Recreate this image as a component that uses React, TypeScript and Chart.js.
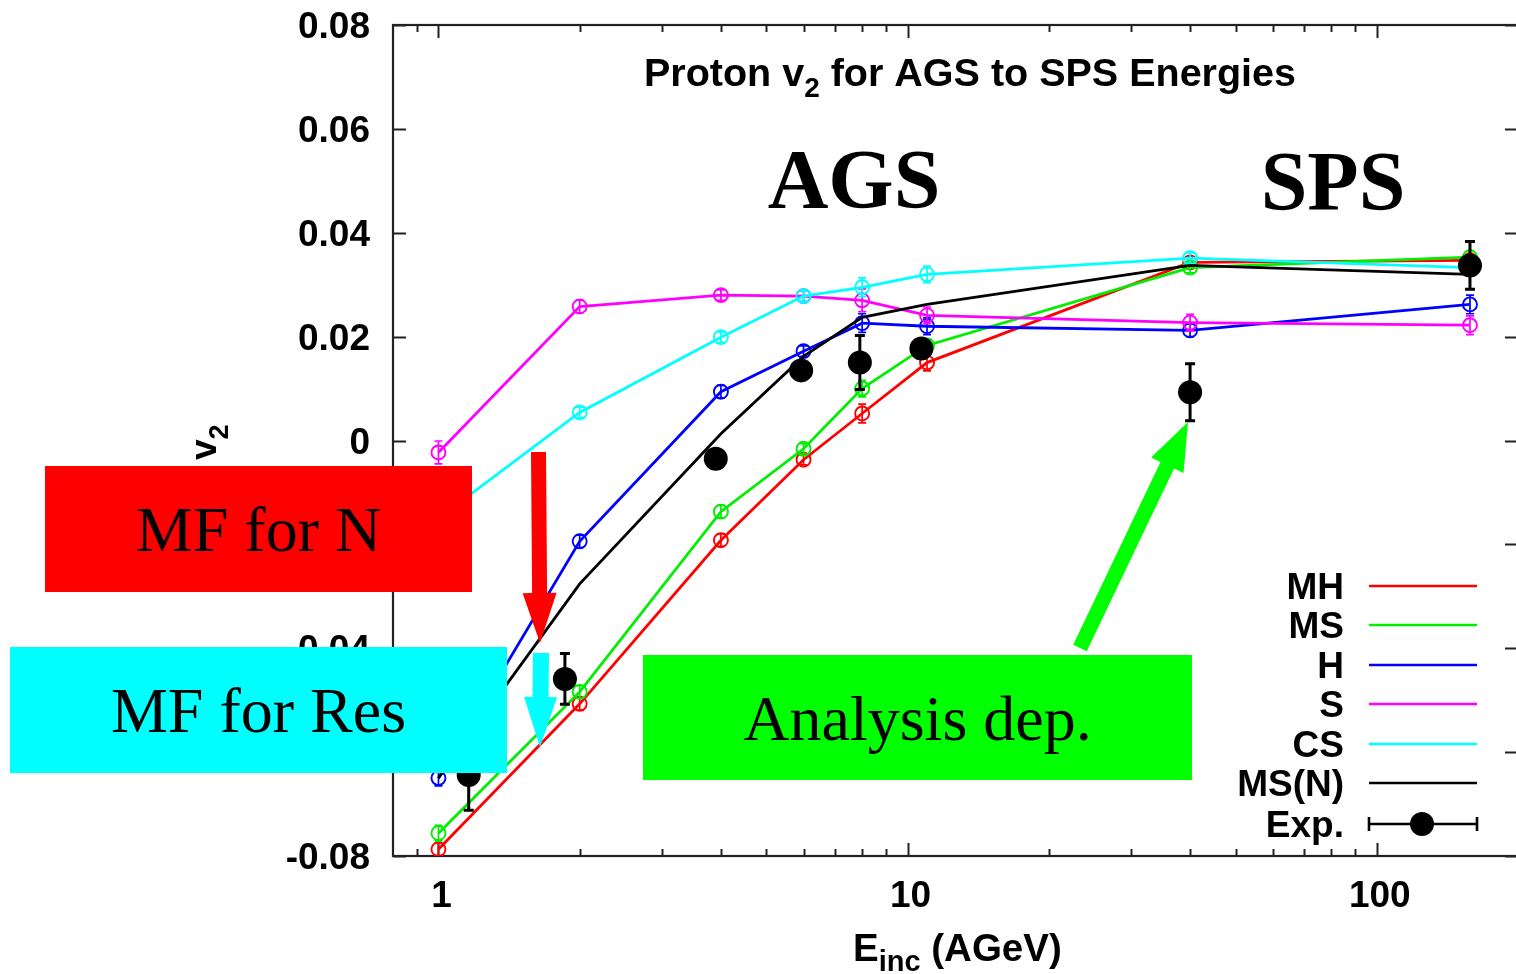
import React, { useEffect, useRef } from "react";
import { Chart, registerables } from "chart.js";

Chart.register(...registerables);

// ---------- data ----------
const energies = [1, 2, 4, 6, 8, 11, 40, 158];

const mhValues = [-0.0787, -0.0507, -0.0192, -0.0037, 0.0052, 0.015, 0.0343, 0.0347];
const mhErrors = [0.0012, 0.0012, 0.0012, 0.001, 0.0018, 0.0016, 0.001, 0.0012];

const msValues = [-0.0756, -0.0484, -0.0137, -0.0016, 0.01, 0.0183, 0.0333, 0.0353];
const msErrors = [0.0015, 0.0012, 0.0012, 0.001, 0.0016, 0.0012, 0.001, 0.0012];

const hValues = [-0.065, -0.0194, 0.0094, 0.0172, 0.0226, 0.022, 0.0212, 0.0262];
const hErrors = [0.0015, 0.0012, 0.0012, 0.001, 0.0018, 0.0016, 0.0012, 0.0018];

const sValues = [-0.0023, 0.0258, 0.028, 0.0278, 0.027, 0.0241, 0.0227, 0.0222];
const sErrors = [0.0022, 0.0012, 0.001, 0.001, 0.0022, 0.0016, 0.0016, 0.0018];

const csValues = [-0.015, 0.0054, 0.0199, 0.0278, 0.0295, 0.032, 0.0351, 0.0333];
const csErrors = [0.0012, 0.001, 0.001, 0.001, 0.0018, 0.0016, 0.001, 0.0012];

const msnValues = [-0.065, -0.0276, 0.0013, 0.0162, 0.0237, 0.0262, 0.0337, 0.032];

const expEnergies = [1.16, 1.86, 3.9, 5.93, 7.91, 10.7, 40, 158];
const expValues = [-0.0644, -0.0459, -0.0035, 0.0135, 0.015, 0.0177, 0.0093, 0.0337];
const expErrors = [0.0068, 0.0049, 0.0015, 0.0015, 0.0052, 0.0015, 0.0055, 0.0046];

const seriesLabels = ["MH", "MS", "H", "S", "CS", "MS(N)", "Exp."];
const seriesColors = ["#ff0000", "#00ee00", "#0000ff", "#ff00ff", "#00ffff", "#000000", "#000000"];

const yTickValues = [0.08, 0.06, 0.04, 0.02, 0, -0.02, -0.04, -0.06, -0.08];
const yTickLabels = ["0.08", "0.06", "0.04", "0.02", "0", "-0.02", "-0.04", "-0.06", "-0.08"];
const xMajorTicks = [1, 10, 100];
const xMajorLabels = ["1", "10", "100"];
const xMinorTicks = [0.9, 2, 3, 4, 5, 6, 7, 8, 9, 20, 30, 40, 50, 60, 70, 80, 90];

const titleText = { main: "Proton v", sub: "2", rest: " for AGS to SPS Energies" };
const xTitle = { main: "E", sub: "inc", rest: " (AGeV)" };
const yTitle = { main: "v", sub: "2" };

const SANS = '"Liberation Sans", Arial, Helvetica, sans-serif';
const SERIF = '"Liberation Serif", "Times New Roman", serif';

function pts(xs: number[], ys: number[]) {
  return xs.map((x, i) => ({ x, y: ys[i] }));
}

function drawArrow(
  ctx: CanvasRenderingContext2D,
  x0: number, y0: number, x1: number, y1: number,
  shaftW: number, headLen: number, headW: number, color: string
) {
  const dx = x1 - x0, dy = y1 - y0;
  const len = Math.hypot(dx, dy);
  const ux = dx / len, uy = dy / len;
  const nx = -uy, ny = ux;
  const bx = x1 - ux * headLen, by = y1 - uy * headLen;
  ctx.save();
  ctx.fillStyle = color;
  ctx.beginPath();
  ctx.moveTo(x0 + nx * shaftW / 2, y0 + ny * shaftW / 2);
  ctx.lineTo(bx + nx * shaftW / 2, by + ny * shaftW / 2);
  ctx.lineTo(bx + nx * headW / 2, by + ny * headW / 2);
  ctx.lineTo(x1, y1);
  ctx.lineTo(bx - nx * headW / 2, by - ny * headW / 2);
  ctx.lineTo(bx - nx * shaftW / 2, by - ny * shaftW / 2);
  ctx.lineTo(x0 - nx * shaftW / 2, y0 - ny * shaftW / 2);
  ctx.closePath();
  ctx.fill();
  ctx.restore();
}

const frameTicksPlugin = {
  id: "frameTicks",
  beforeDatasetsDraw(chart: any) {
    const { ctx, chartArea } = chart;
    const { left, right, top, bottom } = chartArea;
    const xs = chart.scales.x;
    const ys = chart.scales.y;
    ctx.save();
    ctx.strokeStyle = "#222";
    ctx.lineWidth = 2.2;
    ctx.strokeRect(left, top, right - left, bottom - top);
    ctx.lineWidth = 2;
    ctx.beginPath();
    yTickValues.forEach((v) => {
      const p = Math.round(ys.getPixelForValue(v)) + 0.5;
      ctx.moveTo(left, p); ctx.lineTo(left + 13, p);
      ctx.moveTo(right, p); ctx.lineTo(right - 13, p);
    });
    xMajorTicks.forEach((v) => {
      const p = Math.round(xs.getPixelForValue(v)) + 0.5;
      ctx.moveTo(p, bottom); ctx.lineTo(p, bottom - 13);
      ctx.moveTo(p, top); ctx.lineTo(p, top + 13);
    });
    xMinorTicks.forEach((v) => {
      const p = Math.round(xs.getPixelForValue(v)) + 0.5;
      ctx.moveTo(p, bottom); ctx.lineTo(p, bottom - 7);
      ctx.moveTo(p, top); ctx.lineTo(p, top + 7);
    });
    ctx.stroke();
    ctx.restore();
  },
};

const errorBarPlugin = {
  id: "errorBars",
  afterDatasetDraw(chart: any, args: any) {
    const ds: any = chart.data.datasets[args.index];
    if (!ds.errors) return;
    const { ctx, chartArea } = chart;
    const ys = chart.scales.y;
    ctx.save();
    ctx.beginPath();
    ctx.rect(chartArea.left, chartArea.top, chartArea.right - chartArea.left, chartArea.bottom - chartArea.top);
    ctx.clip();
    ctx.strokeStyle = ds.borderColor;
    ctx.lineWidth = ds.errorWidth;
    ctx.beginPath();
    args.meta.data.forEach((el: any, j: number) => {
      const v = ds.data[j].y;
      const e = ds.errors[j];
      const yTop = ys.getPixelForValue(v + e);
      const yBot = ys.getPixelForValue(v - e);
      const x = el.x;
      const c = ds.capHalf;
      ctx.moveTo(x, yTop); ctx.lineTo(x, yBot);
      ctx.moveTo(x - c, yTop); ctx.lineTo(x + c, yTop);
      ctx.moveTo(x - c, yBot); ctx.lineTo(x + c, yBot);
    });
    ctx.stroke();
    ctx.restore();
  },
};

function drawSubText(
  ctx: CanvasRenderingContext2D, t: { main: string; sub: string; rest?: string },
  x: number, y: number, size: number, subSize: number, subShift: number, align: "left" | "center"
) {
  ctx.font = `bold ${size}px ${SANS}`;
  const w1 = ctx.measureText(t.main).width;
  const w3 = t.rest ? ctx.measureText(t.rest).width : 0;
  ctx.font = `bold ${subSize}px ${SANS}`;
  const w2 = ctx.measureText(t.sub).width;
  const total = w1 + w2 + w3;
  const x0 = align === "center" ? x - total / 2 : x;
  ctx.textAlign = "left";
  ctx.textBaseline = "alphabetic";
  ctx.font = `bold ${size}px ${SANS}`;
  ctx.fillText(t.main, x0, y);
  ctx.font = `bold ${subSize}px ${SANS}`;
  ctx.fillText(t.sub, x0 + w1, y + subShift);
  if (t.rest) {
    ctx.font = `bold ${size}px ${SANS}`;
    ctx.fillText(t.rest, x0 + w1 + w2, y);
  }
}

const overlayPlugin = {
  id: "overlay",
  afterDraw(chart: any) {
    const { ctx, chartArea } = chart;
    const xs = chart.scales.x;
    const ys = chart.scales.y;
    const FS = 37;
    ctx.save();
    ctx.fillStyle = "#000";

    // tick labels
    ctx.font = `bold ${FS}px ${SANS}`;
    ctx.textBaseline = "alphabetic";
    ctx.textAlign = "right";
    yTickValues.forEach((v, i) => {
      const p = ys.getPixelForValue(v);
      ctx.fillText(yTickLabels[i], chartArea.left - 23, p + FS * 0.358);
    });
    ctx.textAlign = "center";
    xMajorTicks.forEach((v, i) => {
      const p = xs.getPixelForValue(v);
      ctx.fillText(xMajorLabels[i], p + 3, chartArea.bottom + 51);
    });

    // title
    drawSubText(ctx, titleText, 970, 86, 39.5, 28, 11, "center");
    // x title
    drawSubText(ctx, xTitle, 853, 961, 38.5, 29, 10, "left");
    // y title rotated
    ctx.save();
    ctx.translate(216, 460);
    ctx.rotate(-Math.PI / 2);
    drawSubText(ctx, yTitle, 0, 0, FS, 27, 12, "left");
    ctx.restore();

    // legend
    const legendRows = [586, 625, 665, 704, 744, 783, 824];
    ctx.font = `bold ${FS}px ${SANS}`;
    ctx.textAlign = "right";
    chart.data.datasets.forEach((ds: any, i: number) => {
      const yc = legendRows[i];
      ctx.fillStyle = "#000";
      ctx.fillText(ds.label, 1344, yc + FS * 0.358);
      ctx.strokeStyle = ds.borderColor;
      ctx.lineWidth = 2.6;
      ctx.beginPath();
      ctx.moveTo(1369, yc); ctx.lineTo(1477, yc);
      if (ds.isExp) {
        ctx.moveTo(1369, yc - 7); ctx.lineTo(1369, yc + 7);
        ctx.moveTo(1477, yc - 7); ctx.lineTo(1477, yc + 7);
      }
      ctx.stroke();
      if (ds.isExp) {
        ctx.fillStyle = "#000";
        ctx.beginPath();
        ctx.arc(1422, yc, 12, 0, Math.PI * 2);
        ctx.fill();
      }
    });

    // big serif labels
    ctx.fillStyle = "#000";
    ctx.textAlign = "center";
    ctx.textBaseline = "alphabetic";
    ctx.font = `bold 84px ${SERIF}`;
    ctx.fillText("AGS", 854, 208);
    ctx.fillText("SPS", 1333, 210);

    // annotation boxes
    ctx.fillStyle = "#ff0000";
    ctx.fillRect(45, 466, 427, 126);
    ctx.fillStyle = "#00ffff";
    ctx.fillRect(10, 647, 497, 126);
    ctx.fillStyle = "#00ff00";
    ctx.fillRect(643, 655, 549, 125);
    ctx.fillStyle = "#000";
    ctx.font = `64px ${SERIF}`;
    ctx.fillText("MF for N", 258.5, 551);
    ctx.fillText("MF for Res", 258.5, 732);
    ctx.fillText("Analysis dep.", 917.5, 740);

    // arrows
    drawArrow(ctx, 538.5, 452, 540, 643, 15, 50, 34, "#ff0000");
    drawArrow(ctx, 541, 653, 540, 747, 16, 50, 33, "#00ffff");
    drawArrow(ctx, 1080, 648, 1188, 422, 15, 48, 36, "#00ff00");

    ctx.restore();
  },
};

export default function App() {
  const canvasRef = useRef<HTMLCanvasElement | null>(null);

  useEffect(() => {
    const canvas = canvasRef.current;
    if (!canvas) return;

    const modelSeries = [mhValues, msValues, hValues, sValues, csValues];
    const modelErrors = [mhErrors, msErrors, hErrors, sErrors, csErrors];

    const datasets: any[] = modelSeries.map((vals, i) => ({
      label: seriesLabels[i],
      data: pts(energies, vals),
      borderColor: seriesColors[i],
      backgroundColor: "rgba(0,0,0,0)",
      borderWidth: 2.8,
      pointRadius: 7,
      pointBorderWidth: 1.9,
      pointBackgroundColor: "rgba(0,0,0,0)",
      pointBorderColor: seriesColors[i],
      showLine: true,
      order: 6 - i,
      errors: modelErrors[i],
      errorWidth: 1.7,
      capHalf: 4,
    }));
    datasets.push({
      label: seriesLabels[5],
      data: pts(energies, msnValues),
      borderColor: seriesColors[5],
      backgroundColor: "rgba(0,0,0,0)",
      borderWidth: 2.8,
      pointRadius: 0,
      showLine: true,
      order: 1,
    });
    datasets.push({
      label: seriesLabels[6],
      data: pts(expEnergies, expValues),
      borderColor: seriesColors[6],
      backgroundColor: "#000",
      pointRadius: 12,
      pointBorderWidth: 0,
      pointBackgroundColor: "#000",
      showLine: false,
      order: 0,
      isExp: true,
      errors: expErrors,
      errorWidth: 3,
      capHalf: 5,
    });

    const chart = new Chart(canvas, {
      type: "line",
      data: { datasets },
      options: {
        animation: false,
        responsive: false,
        maintainAspectRatio: false,
        devicePixelRatio: 1,
        layout: { padding: { top: 25, right: 6, left: 0, bottom: 0 } },
        plugins: {
          legend: { display: false },
          tooltip: { enabled: false },
          title: { display: false },
        },
        elements: { line: { tension: 0 } },
        scales: {
          x: {
            type: "logarithmic",
            min: 0.8,
            max: 200,
            position: "bottom",
            grid: { display: false, drawTicks: false, tickLength: 0 },
            border: { display: false },
            ticks: { display: false },
            afterFit: (s: any) => { s.height = 118; },
          },
          y: {
            type: "linear",
            min: -0.08,
            max: 0.08,
            grid: { display: false, drawTicks: false, tickLength: 0 },
            border: { display: false },
            ticks: { display: false, stepSize: 0.02 },
            afterFit: (s: any) => { s.width = 393; },
          },
        },
      } as any,
      plugins: [frameTicksPlugin, errorBarPlugin, overlayPlugin],
    });

    return () => chart.destroy();
  }, []);

  return (
    <div
      style={{
        position: "fixed",
        left: 0,
        top: 0,
        width: 1516,
        height: 974,
        overflow: "hidden",
        background: "#fff",
      }}
    >
      <canvas
        ref={canvasRef}
        width={1530}
        height={974}
        style={{ display: "block", width: 1530, height: 974 }}
      />
    </div>
  );
}
